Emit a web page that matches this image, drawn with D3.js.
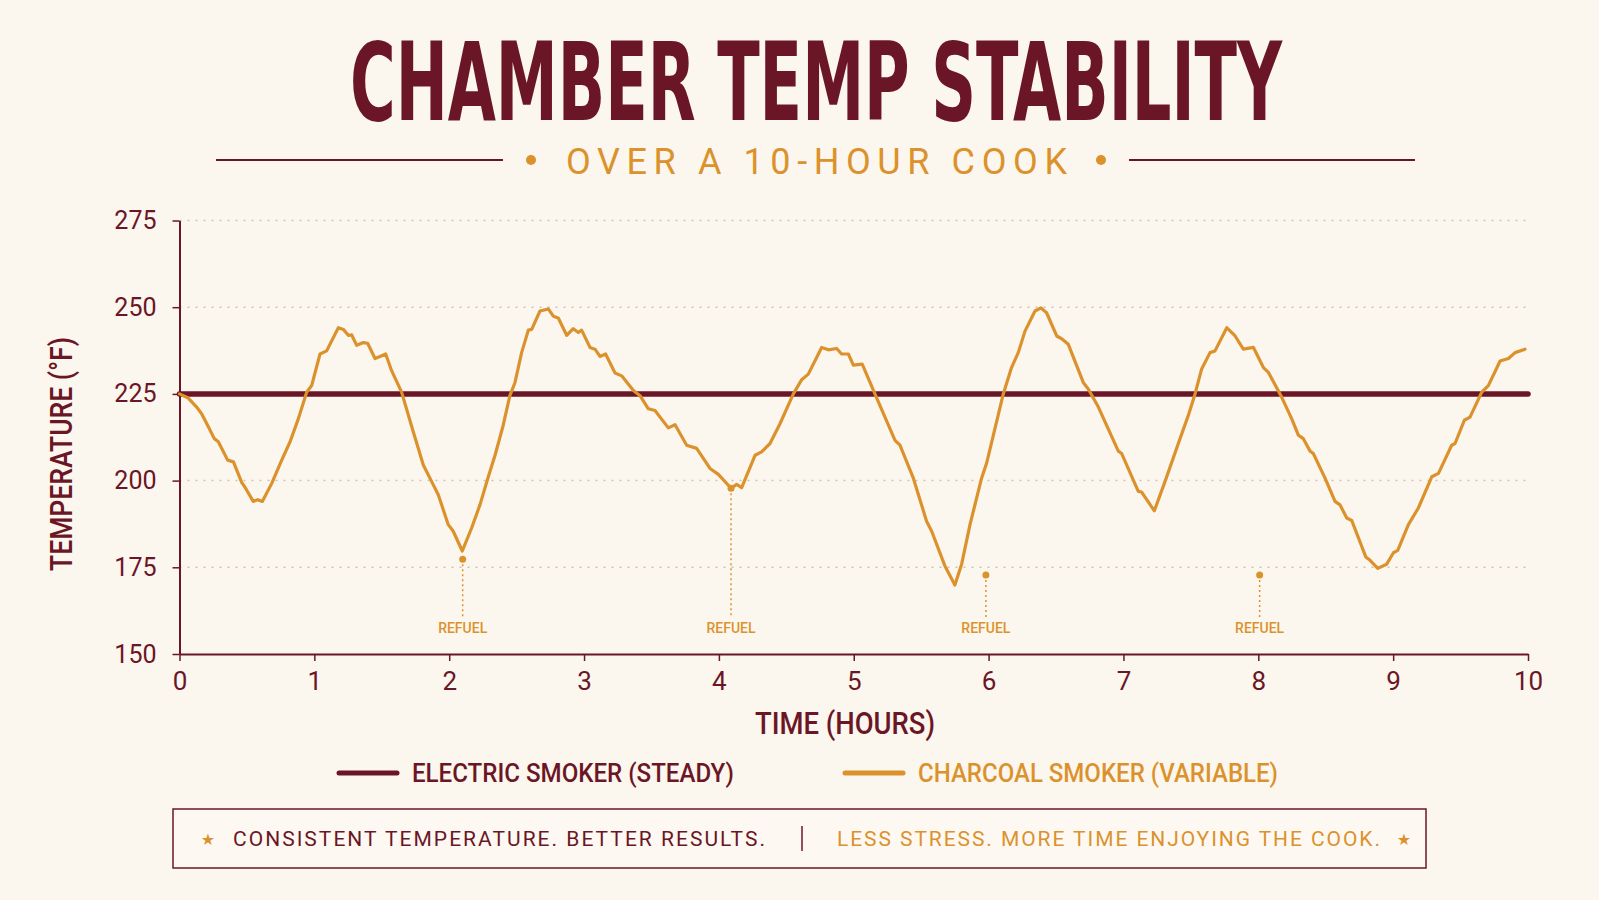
<!DOCTYPE html>
<html>
<head>
<meta charset="utf-8">
<script src="https://cdn.jsdelivr.net/npm/d3@7"></script>
<style>
  body { margin: 0; background: #fcf7ee; }
  svg { display: block; }
</style>
</head>
<body>
<div id="chart"></div>
<script>
// chart values
const hourTicks = [0, 1, 2, 3, 4, 5, 6, 7, 8, 9, 10]
const tempTicks = [150, 175, 200, 225, 250, 275]

const electricHours = [0, 1, 2, 3, 4, 5, 6, 7, 8, 9, 10]
const electricTemps = [225, 225, 225, 225, 225, 225, 225, 225, 225, 225, 225]

const charcoalHours = [0, 0.065, 0.127, 0.164, 0.214, 0.258, 0.288, 0.357, 0.4, 0.461, 0.49, 0.547, 0.58, 0.614,
  0.684, 0.758, 0.82, 0.881, 0.943, 0.98, 1.042, 1.091, 1.178, 1.215, 1.252, 1.277, 1.314, 1.363, 1.395, 1.45,
  1.487, 1.529, 1.573, 1.647, 1.734, 1.808, 1.87, 1.919, 1.993, 2.03, 2.097, 2.167, 2.228, 2.29, 2.34, 2.4, 2.45,
  2.488, 2.537, 2.587, 2.612, 2.673, 2.735, 2.772, 2.809, 2.871, 2.92, 2.958, 2.982, 3.044, 3.081, 3.118, 3.16,
  3.23, 3.279, 3.366, 3.415, 3.477, 3.526, 3.625, 3.675, 3.761, 3.835, 3.934, 3.996, 4.09, 4.132, 4.169, 4.268,
  4.317, 4.379, 4.453, 4.552, 4.614, 4.663, 4.762, 4.812, 4.873, 4.91, 4.96, 4.997, 5.063, 5.157, 5.306, 5.343,
  5.442, 5.54, 5.578, 5.676, 5.75, 5.8, 5.862, 5.948, 5.985, 6.047, 6.109, 6.17, 6.22, 6.27, 6.344, 6.388, 6.43,
  6.505, 6.542, 6.591, 6.702, 6.739, 6.814, 6.962, 6.987, 7.11, 7.135, 7.229, 7.308, 7.407, 7.481, 7.531, 7.58,
  7.642, 7.679, 7.766, 7.828, 7.889, 7.964, 8.038, 8.075, 8.174, 8.248, 8.297, 8.334, 8.384, 8.408, 8.495, 8.569,
  8.606, 8.656, 8.693, 8.797, 8.829, 8.886, 8.952, 9.002, 9.034, 9.113, 9.187, 9.286, 9.336, 9.434, 9.459, 9.528,
  9.57, 9.657, 9.706, 9.793, 9.855, 9.904, 9.978]
const charcoalTemps = [225, 223.8, 221.2, 219.3, 215.5, 212.1, 211.2, 205.9, 205.4, 199.5, 197.8, 194, 194.5, 194,
  199.2, 205.9, 211.2, 217.8, 225.5, 227.4, 236.5, 237.4, 244.1, 243.6, 241.9, 242, 239, 239.8, 239.6, 235.2,
  235.8, 236.5, 231.7, 225.5, 214, 204.5, 199.7, 195.9, 187.3, 185.4, 179.7, 186.4, 193, 201.1, 207.3, 215.9, 224.5,
  228.3, 236.9, 243.4, 243.6, 248.9, 249.5, 247.4, 246.9, 241.9, 243.8, 242.7, 243.4, 238.4, 237.9, 235.8, 236.5,
  231, 230.2, 226, 224.5, 220.7, 220.2, 215.2, 216.1, 210.2, 209.3, 203.5, 201.8, 197.8, 198.9, 198, 207.3,
  208.3, 210.7, 216.4, 225, 229.1, 230.7, 238.4, 237.7, 238.1, 236.5, 236.5, 233.3, 233.6, 225, 211.6, 210.2,
  200.7, 188.3, 185.4, 175.4, 169.9, 175.9, 187.3, 200.7, 205, 215, 225, 232.6, 236.9, 243.1, 248.9, 249.8, 248.4,
  241.7, 240.9, 239.3, 228.3, 226.4, 221.2, 208.5, 207.8, 196.9, 196.7, 191.3, 199.7, 210.7, 218.8, 225, 232.2,
  236.9, 237.4, 244.1, 241.7, 237.9, 238.4, 232.6, 231.2, 224, 217.8, 213.1, 212.1, 208.5, 207.8, 200.7, 194,
  193, 189.2, 188.5, 178, 177, 174.7, 175.9, 179.2, 179.9, 187.3, 192.1, 201.1, 202.1, 210.2, 210.7, 217.4,
  218.3, 225.5, 227.4, 234.5, 235.2, 236.9, 237.9]

const refuelHours = [2.1, 4.09, 5.98, 8.01]
const refuelTemps = [177.3, 197.8, 172.8, 172.8]
const refuelLabel = 'REFUEL'

const maroon = '#6b1626'
const orange = '#db922d'
const grid = '#c9c2b8'

const width = 1599
const height = 900

const svg = d3.select('#chart')
  .append('svg')
  .attr('width', width)
  .attr('height', height)
  .style('background', '#fcf7ee')

const xPositionScale = d3.scaleLinear().domain([0, 10]).range([179.5, 1528])
const yPositionScale = d3.scaleLinear().domain([150, 275]).range([654, 220.5])

// title block
svg.append('text')
  .text('CHAMBER TEMP STABILITY')
  .attr('x', 350).attr('y', 120)
  .attr('textLength', 932).attr('lengthAdjust', 'spacingAndGlyphs')
  .attr('font-family', "'Liberation Sans Narrow', 'DejaVu Sans Condensed', Roboto, sans-serif")
  .attr('font-weight', 700).attr('font-size', '108px')
  .attr('fill', maroon)

svg.append('line').attr('x1', 216).attr('x2', 503).attr('y1', 160).attr('y2', 160)
  .attr('stroke', maroon).attr('stroke-width', 2)
svg.append('line').attr('x1', 1129).attr('x2', 1415).attr('y1', 160).attr('y2', 160)
  .attr('stroke', maroon).attr('stroke-width', 2)
svg.append('circle').attr('cx', 531).attr('cy', 160).attr('r', 5).attr('fill', orange)
svg.append('circle').attr('cx', 1101).attr('cy', 160).attr('r', 5).attr('fill', orange)

svg.append('text')
  .text('OVER A 10-HOUR COOK')
  .attr('x', 566).attr('y', 174)
  .attr('textLength', 501).attr('lengthAdjust', 'spacing')
  .attr('font-family', 'Roboto, sans-serif').attr('font-size', '36px')
  .attr('fill', orange)

// dotted grid
svg.selectAll('.grid-line')
  .data(tempTicks.filter(d => d > 150))
  .enter()
  .append('line')
  .attr('class', 'grid-line')
  .attr('x1', xPositionScale(0))
  .attr('x2', 1530)
  .attr('y1', d => yPositionScale(d))
  .attr('y2', d => yPositionScale(d))
  .attr('stroke', grid)
  .attr('stroke-width', 1.5)
  .attr('stroke-dasharray', '2,6')

// axes
const yAxis = d3.axisLeft(yPositionScale).tickValues(tempTicks).tickSize(7).tickSizeOuter(0).tickPadding(16)
const yAxisG = svg.append('g')
  .attr('class', 'axis y-axis')
  .attr('transform', 'translate(' + xPositionScale(0) + ',0)')
  .call(yAxis)

const xAxis = d3.axisBottom(xPositionScale).tickValues(hourTicks).tickSize(7).tickSizeOuter(0).tickPadding(11)
const xAxisG = svg.append('g')
  .attr('class', 'axis x-axis')
  .attr('transform', 'translate(0,' + yPositionScale(150) + ')')
  .call(xAxis)

svg.selectAll('.axis path').attr('stroke', maroon).attr('stroke-width', 2)
svg.selectAll('.axis line').attr('stroke', maroon).attr('stroke-width', 1.5)
yAxisG.selectAll('text').attr('font-size', '25px')
xAxisG.selectAll('text').attr('font-size', '26px')
svg.selectAll('.axis text')
  .attr('font-family', 'Roboto, sans-serif')
  .attr('fill', maroon)

svg.append('text')
  .text('TEMPERATURE (°F)')
  .attr('transform', 'translate(72,454) rotate(-90)')
  .attr('text-anchor', 'middle')
  .attr('textLength', 234).attr('lengthAdjust', 'spacingAndGlyphs')
  .attr('font-family', 'Roboto, sans-serif').attr('font-weight', 500).attr('font-size', '31px')
  .attr('fill', maroon)

svg.append('text')
  .text('TIME (HOURS)')
  .attr('x', 755).attr('y', 734)
  .attr('textLength', 180).attr('lengthAdjust', 'spacingAndGlyphs')
  .attr('font-family', 'Roboto, sans-serif').attr('font-weight', 500).attr('font-size', '32px')
  .attr('fill', maroon)

// lines
const line = d3.line()
  .x(d => xPositionScale(d[0]))
  .y(d => yPositionScale(d[1]))

svg.append('path')
  .datum(d3.zip(electricHours, electricTemps))
  .attr('d', line)
  .attr('fill', 'none')
  .attr('stroke', maroon)
  .attr('stroke-width', 5.5)
  .attr('stroke-linecap', 'round')

svg.append('path')
  .datum(d3.zip(charcoalHours, charcoalTemps))
  .attr('d', line)
  .attr('fill', 'none')
  .attr('stroke', orange)
  .attr('stroke-width', 3.2)
  .attr('stroke-linejoin', 'round')
  .attr('stroke-linecap', 'round')

// refuel markers
const refuels = d3.zip(refuelHours, refuelTemps)

svg.selectAll('.refuel-line')
  .data(refuels)
  .enter()
  .append('line')
  .attr('class', 'refuel-line')
  .attr('x1', d => xPositionScale(d[0]))
  .attr('x2', d => xPositionScale(d[0]))
  .attr('y1', d => yPositionScale(d[1]))
  .attr('y2', yPositionScale(160.5))
  .attr('stroke', orange)
  .attr('stroke-width', 1.5)
  .attr('stroke-dasharray', '2,3')

svg.selectAll('.refuel-dot')
  .data(refuels)
  .enter()
  .append('circle')
  .attr('class', 'refuel-dot')
  .attr('cx', d => xPositionScale(d[0]))
  .attr('cy', d => yPositionScale(d[1]))
  .attr('r', 3.5)
  .attr('fill', orange)

svg.selectAll('.refuel-text')
  .data(refuels)
  .enter()
  .append('text')
  .attr('class', 'refuel-text')
  .attr('x', d => xPositionScale(d[0]))
  .attr('y', 633)
  .attr('text-anchor', 'middle')
  .text(refuelLabel)
  .attr('font-family', 'Roboto, sans-serif').attr('font-weight', 500).attr('font-size', '14px')
  .attr('fill', orange)

// legend
svg.append('line').attr('x1', 339).attr('x2', 397).attr('y1', 773).attr('y2', 773)
  .attr('stroke', maroon).attr('stroke-width', 5).attr('stroke-linecap', 'round')
svg.append('text').text('ELECTRIC SMOKER (STEADY)')
  .attr('x', 412).attr('y', 782)
  .attr('textLength', 322).attr('lengthAdjust', 'spacingAndGlyphs')
  .attr('font-family', 'Roboto, sans-serif').attr('font-weight', 500).attr('font-size', '25px')
  .attr('fill', maroon)

svg.append('line').attr('x1', 845).attr('x2', 903).attr('y1', 773).attr('y2', 773)
  .attr('stroke', orange).attr('stroke-width', 5).attr('stroke-linecap', 'round')
svg.append('text').text('CHARCOAL SMOKER (VARIABLE)')
  .attr('x', 918).attr('y', 782)
  .attr('textLength', 360).attr('lengthAdjust', 'spacingAndGlyphs')
  .attr('font-family', 'Roboto, sans-serif').attr('font-weight', 500).attr('font-size', '25px')
  .attr('fill', orange)

// footer box
svg.append('rect')
  .attr('x', 173).attr('y', 809).attr('width', 1253).attr('height', 59)
  .attr('fill', '#fdf9f2')
  .attr('stroke', maroon).attr('stroke-width', 1.5)

svg.append('text').text('★').attr('x', 208).attr('y', 845).attr('text-anchor', 'middle')
  .attr('font-family', 'DejaVu Sans, sans-serif').attr('font-size', '16px').attr('fill', orange)
svg.append('text').text('★').attr('x', 1404).attr('y', 845).attr('text-anchor', 'middle')
  .attr('font-family', 'DejaVu Sans, sans-serif').attr('font-size', '16px').attr('fill', orange)

svg.append('text').text('CONSISTENT TEMPERATURE. BETTER RESULTS.')
  .attr('x', 233).attr('y', 846)
  .attr('textLength', 532).attr('lengthAdjust', 'spacing')
  .attr('font-family', 'Roboto, sans-serif').attr('font-size', '21px')
  .attr('fill', maroon)

svg.append('line').attr('x1', 802).attr('x2', 802).attr('y1', 826).attr('y2', 851)
  .attr('stroke', maroon).attr('stroke-width', 1.5)

svg.append('text').text('LESS STRESS. MORE TIME ENJOYING THE COOK.')
  .attr('x', 837).attr('y', 846)
  .attr('textLength', 543).attr('lengthAdjust', 'spacing')
  .attr('font-family', 'Roboto, sans-serif').attr('font-size', '21px')
  .attr('fill', orange)
</script>
</body>
</html>
